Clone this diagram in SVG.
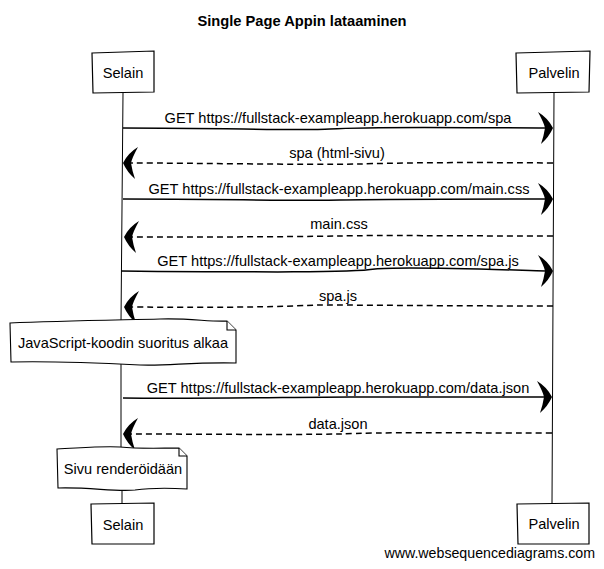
<svg xmlns="http://www.w3.org/2000/svg" xmlns:xlink="http://www.w3.org/1999/xlink" width="604" height="569" viewBox="0 0 604 569">
<style>
text{font-family:"Liberation Sans",Arial,sans-serif;font-size:14.6px;fill:#000}
.title{font-weight:bold;font-size:14.7px}
.box{fill:#fff;stroke:#000;stroke-width:1.2}
.life{fill:none;stroke:#000;stroke-width:1}
.msg{fill:none;stroke:#000;stroke-width:1.5}
.ret{fill:none;stroke:#000;stroke-width:1.5;stroke-dasharray:6 4}
.note{fill:#fff;stroke:#000;stroke-width:1.1}
.mid{text-anchor:middle}
</style>
<defs>
<path id="headR" d="M0,0 Q-5,-10 -15,-16 Q-9,-5 -8,0 Q-9,7 -12,16 Q-4,9 0,0 Z" fill="#000"/>
<path id="headL" d="M0,0 Q5,-10 15,-16 Q9,-5 8,0 Q9,7 12,16 Q4,9 0,0 Z" fill="#000"/>
</defs>
<rect width="604" height="569" fill="#fff"/>
<text class="title mid" x="302" y="26">Single Page Appin lataaminen</text>

<g id="lifelines">
<path class="life" d="M123,93 L121,322"/>
<path class="life" d="M121,363 L121,448"/>
<path class="life" d="M122,489 L122,503"/>
<path class="life" d="M554,93 Q553,300 552,503"/>
</g>

<g id="selain-top">
<path class="box" d="M92,53 L154,51 L154,92 L93,93 Z"/>
<text class="mid" x="123" y="78">Selain</text>
</g>
<g id="palvelin-top">
<path class="box" d="M516,53 L590,51 L589,92 L517,93 Z"/>
<text class="mid" x="554" y="78">Palvelin</text>
</g>

<g id="connectors">
<path class="msg" d="M123,128 C230,128 300,131 330,129 C380,126 480,128 546,128"/>
<use xlink:href="#headR" x="553" y="128"/>
<text class="mid" x="338" y="123">GET https://fullstack-exampleapp.herokuapp.com/spa</text>

<path class="ret" d="M553,163 C450,162 390,163 360,164 C300,165 200,163 131,163"/>
<use xlink:href="#headL" x="123" y="163"/>
<text class="mid" x="337" y="158">spa (html-sivu)</text>

<path class="msg" d="M123,199 C220,199 300,201 340,200 C400,199 480,199 546,199"/>
<use xlink:href="#headR" x="553" y="199"/>
<text class="mid" x="339" y="194">GET https://fullstack-exampleapp.herokuapp.com/main.css</text>

<path class="ret" d="M553,236 C450,236 380,235 340,236 C280,237 200,237 132,237"/>
<use xlink:href="#headL" x="124" y="237"/>
<text class="mid" x="339" y="229">main.css</text>

<path class="msg" d="M121,271 C250,272 350,273 375,269 C400,266 480,269 546,271"/>
<use xlink:href="#headR" x="553" y="271"/>
<text class="mid" x="338" y="266">GET https://fullstack-exampleapp.herokuapp.com/spa.js</text>

<path class="ret" d="M553,306 C450,306 360,305 320,305 C290,306 260,308 132,307"/>
<use xlink:href="#headL" x="124" y="307"/>
<text class="mid" x="338" y="301">spa.js</text>

<path class="msg" d="M123,398 C200,399 300,397 350,397 C420,397 480,397 545,397"/>
<use xlink:href="#headR" x="552" y="397"/>
<text class="mid" x="338" y="393">GET https://fullstack-exampleapp.herokuapp.com/data.json</text>

<path class="ret" d="M552,433 C450,433 380,432 340,434 C280,435 200,434 131,434"/>
<use xlink:href="#headL" x="123" y="434"/>
<text class="mid" x="338" y="429">data.json</text>
</g>

<g id="note-js">
<path class="note" d="M10,323 C60,321 120,320 160,319 C190,318 210,322 227,321 L236,330 L236,363 C190,362 170,366 140,365 C100,363 50,361 11,362 Z"/>
<path class="note" d="M227,321 L227,330 L236,330"/>
<text class="mid" x="123" y="348">JavaScript-koodin suoritus alkaa</text>
</g>

<g id="note-render">
<path class="note" d="M57,449 C80,448 100,446 120,447 C140,449 160,448 179,448 L187,456 L187,489 C170,488 150,488 135,490 C115,492 90,487 58,488 Z"/>
<path class="note" d="M179,448 L179,456 L187,456"/>
<text class="mid" x="123" y="474">Sivu renderöidään</text>
</g>

<g id="selain-bottom">
<path class="box" d="M91,504 L154,503 L154,544 L92,544 Z"/>
<text class="mid" x="123" y="530">Selain</text>
</g>
<g id="palvelin-bottom">
<path class="box" d="M517,504 L589,503 L589,544 L518,544 Z"/>
<text class="mid" x="554" y="529">Palvelin</text>
</g>

<text x="595" y="558" style="text-anchor:end;font-size:14.2px">www.websequencediagrams.com</text>
</svg>
